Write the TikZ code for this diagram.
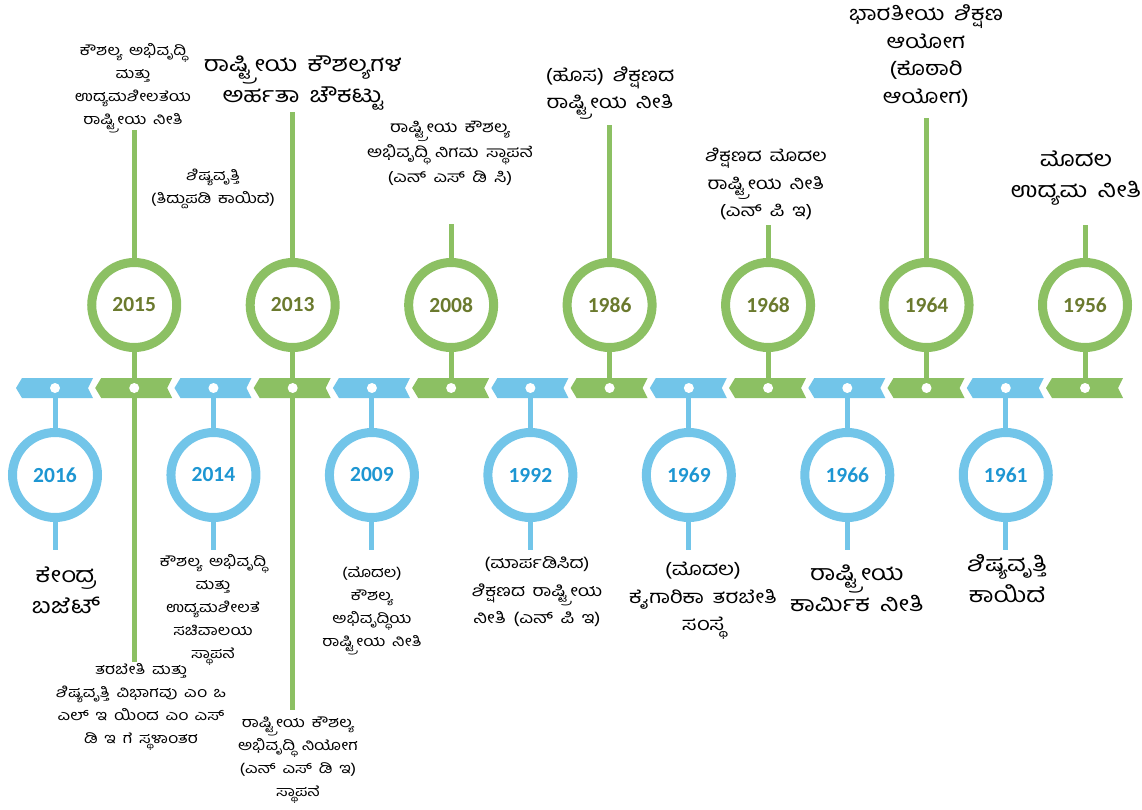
\documentclass[tikz,border=0pt]{standalone}
\usepackage{fontspec}
\setmainfont{Carlito}
\newfontfamily\kan[Script=Kannada, WordSpace=1.6, FakeStretch=1.2]{Hind Mysuru}
\usetikzlibrary{backgrounds}

\definecolor{tlgreen}{HTML}{8CC063}
\definecolor{tlblue}{HTML}{72C5E9}
\definecolor{yrgreen}{HTML}{6B7A2E}
\definecolor{yrblue}{HTML}{1E96D2}

\tikzset{
  yearring/.style={circle, line width=9pt, minimum size=85pt, fill=white, inner sep=0pt,
    font=\bfseries\fontsize{21.5}{21.5}\selectfont},
  greenring/.style={yearring, draw=tlgreen, text=yrgreen},
  bluering/.style={yearring, draw=tlblue, text=yrblue},
  gstem/.style={draw=tlgreen, line width=5pt},
  bstem/.style={draw=tlblue, line width=5pt},
  segdot/.style={circle, fill=white, inner sep=0pt, minimum size=10pt},
  kansmall/.style={align=center, inner sep=0pt, font=\kan\fontsize{14.5}{23}\selectfont},
  kanmid/.style={align=center, inner sep=0pt, font=\kan\fontsize{18.5}{27.5}\selectfont},
  kanbig/.style={align=center, inner sep=0pt, font=\kan\fontsize{21.5}{31}\selectfont},
}

\begin{document}
\begin{tikzpicture}[x=1pt, y=-1pt]
  \useasboundingbox (0,0) rectangle (1142,809); % Page
  \begin{scope}[on background layer]
    \fill[white] (0,0) rectangle (1142,809);
  \end{scope}

  % Ribbon, dots and year rings
  \foreach \i/\yr in {0/2016,1/2015,2/2014,3/2013,4/2009,5/2008,6/1992,
                      7/1986,8/1969,9/1968,10/1966,11/1964,12/1961,13/1956} {
    \pgfmathsetmacro\x{55+79.23*\i}
    \ifodd\i \def\segcol{tlgreen}\else \def\segcol{tlblue}\fi
    \fill[\segcol] (\x-39,388) -- (\x-33,378) -- (\x+38,378) -- (\x+33,388)
      -- (\x+38,398) -- (\x-33,398) -- cycle; % Segment
    \node[segdot] (d\i) at (\x,388) {}; % Dot
    \ifodd\i
      \node[greenring] (c\i) at (\x,305) {\yr}; % Ring above
      \begin{scope}[on background layer]
        \draw[gstem] (d\i) -- (c\i);
      \end{scope}
    \else
      \node[bluering] (c\i) at (\x,475) {\yr}; % Ring below
      \begin{scope}[on background layer]
        \draw[bstem] (d\i) -- (c\i);
      \end{scope}
    \fi
  }

  % Stem ends
  \coordinate (e1) at (c1 |- 0,130);
  \coordinate (e1b) at (c1 |- 0,662);
  \coordinate (e2) at (c2 |- 0,223);
  \coordinate (e3) at (c3 |- 0,112);
  \coordinate (e3b) at (c3 |- 0,710);
  \coordinate (e5) at (c5 |- 0,224);
  \coordinate (e7) at (c7 |- 0,125);
  \coordinate (e9) at (c9 |- 0,225);
  \coordinate (e11) at (c11 |- 0,118);
  \coordinate (e13) at (c13 |- 0,225);
  \foreach \i in {0,2,4,6,8,10,12} \coordinate (e\i) at (c\i |- 0,550);

  % Texts above the ribbon
  \node[kansmall] (t1) at (133,88) {ಕೌಶಲ್ಯ ಅಭಿವೃದ್ಧಿ\\ಮತ್ತು\\ಉದ್ಯಮಶೀಲತೆಯ\\ರಾಷ್ಟ್ರೀಯ ನೀತಿ};
  \node[kansmall] (t2) at (213,189) {ಶಿಷ್ಯವೃತ್ತಿ\\(ತಿದ್ದುಪಡಿ ಕಾಯಿದೆ)};
  \node[kanbig] (t3) at (303,83) {ರಾಷ್ಟ್ರೀಯ ಕೌಶಲ್ಯಗಳ\\ಅರ್ಹತಾ ಚೌಕಟ್ಟು};
  \node[kansmall, font=\kan\fontsize{15.5}{25}\selectfont] (t5) at (450,153) {ರಾಷ್ಟ್ರೀಯ ಕೌಶಲ್ಯ\\ಅಭಿವೃದ್ಧಿ ನಿಗಮ ಸ್ಥಾಪನೆ\\(ಎನ್ ಎಸ್ ಡಿ ಸಿ)};
  \node[kanmid] (t7) at (610,93) {(ಹೊಸ) ಶಿಕ್ಷಣದ\\ರಾಷ್ಟ್ರೀಯ ನೀತಿ};
  \node[kanmid, font=\kan\fontsize{17}{27.5}\selectfont] (t9) at (766,184) {ಶಿಕ್ಷಣದ ಮೊದಲ\\ರಾಷ್ಟ್ರೀಯ ನೀತಿ\\(ಎನ್ ಪಿ ಇ)};
  \node[kanmid, font=\kan\fontsize{20}{27.5}\selectfont] (t11) at (926,56) {ಭಾರತೀಯ ಶಿಕ್ಷಣ\\ಆಯೋಗ\\(ಕೊಠಾರಿ\\ಆಯೋಗ)};
  \node[kanbig] (t13) at (1076,178) {ಮೊದಲ\\ಉದ್ಯಮ ನೀತಿ};

  % Texts below the ribbon
  \node[kanbig] (t0) at (66,590) {ಕೇಂದ್ರ\\ಬಜೆಟ್};
  \node[kansmall] (t1b) at (141,707) {ತರಬೇತಿ ಮತ್ತು\\ಶಿಷ್ಯವೃತ್ತಿ ವಿಭಾಗವು ಎಂ ಒ\\ಎಲ್ ಇ ಯಿಂದ ಎಂ ಎಸ್\\ಡಿ ಇ ಗೆ ಸ್ಥಳಾಂತರ};
  \node[kansmall] (t2b) at (213,610) {ಕೌಶಲ್ಯ ಅಭಿವೃದ್ಧಿ\\ಮತ್ತು\\ಉದ್ಯಮಶೀಲತೆ\\ಸಚಿವಾಲಯ\\ಸ್ಥಾಪನೆ};
  \node[kansmall] (t3b) at (298,760) {ರಾಷ್ಟ್ರೀಯ ಕೌಶಲ್ಯ\\ಅಭಿವೃದ್ಧಿ ನಿಯೋಗ\\(ಎನ್ ಎಸ್ ಡಿ ಇ)\\ಸ್ಥಾಪನೆ};
  \node[kansmall] (t4) at (372,611) {(ಮೊದಲ)\\ಕೌಶಲ್ಯ\\ಅಭಿವೃದ್ಧಿಯ\\ರಾಷ್ಟ್ರೀಯ ನೀತಿ};
  \node[kanmid, font=\kan\fontsize{16}{27.5}\selectfont] (t6) at (537,592) {(ಮಾರ್ಪಡಿಸಿದ)\\ಶಿಕ್ಷಣದ ರಾಷ್ಟ್ರೀಯ\\ನೀತಿ (ಎನ್ ಪಿ ಇ)};
  \node[kanmid] (t8) at (703,601) {(ಮೊದಲ)\\ಕೈಗಾರಿಕಾ ತರಬೇತಿ\\ಸಂಸ್ಥೆ};
  \node[kanbig] (t10) at (857,588) {ರಾಷ್ಟ್ರೀಯ\\ಕಾರ್ಮಿಕ ನೀತಿ};
  \node[kanbig] (t12) at (1007,579) {ಶಿಷ್ಯವೃತ್ತಿ\\ಕಾಯಿದೆ};

  % Stems out to the texts
  \begin{scope}[on background layer]
    \foreach \i in {1,3,5,7,9,11,13} \draw[gstem] (c\i) -- (e\i);
    \foreach \i in {0,2,4,6,8,10,12} \draw[bstem] (c\i) -- (e\i);
    \draw[gstem] (d1) -- (e1b);
    \draw[bstem] (d2) -- (e2);
    \draw[gstem] (d3) -- (e3b);
  \end{scope}
\end{tikzpicture}
\end{document}
